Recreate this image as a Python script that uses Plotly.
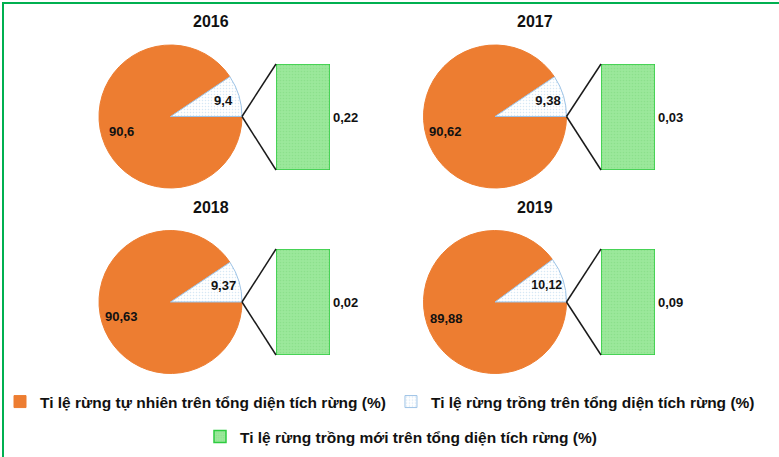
import math
import plotly.graph_objects as go

# Dữ liệu (%)
years = ["2016", "2017", "2018", "2019"]
natural = [90.6, 90.62, 90.63, 89.88]
planted = [9.4, 9.38, 9.37, 10.12]
new_planted = [0.22, 0.03, 0.02, 0.09]

labels = [
    "Ti lệ rừng tự nhiên trên tổng diện tích rừng (%)",
    "Ti lệ rừng trồng trên tổng diện tích rừng (%)",
]
bar_label = "Ti lệ rừng trồng mới trên tổng diện tích rừng (%)"

W, H = 779, 457
ORANGE = "#ED7D31"
PALE = "#F1F7FC"
BLUE_LINE = "#9DC3E6"
GREEN = "#9BE89B"
GREEN_LINE = "#2ECC40"
FONT = "Liberation Sans"

# bố cục (pixel): tâm bánh, bán kính, khung cột
pie_cx = [170.5, 495, 170.5, 495]
pie_cy = [116.5, 116.5, 302, 302]
pie_r = 71.5
bar_x = [(276, 330), (601, 655), (276, 330), (601, 655)]
bar_y = [(64, 170), (64, 170), (249, 355), (249, 355)]


def fx(px):
    return px / W


def fy(py):
    return 1 - py / H


def num(v):
    return str(v).replace(".", ",")


fig = go.Figure()

shapes = []
annotations = []

for i, yr in enumerate(years):
    cx, cy = pie_cx[i], pie_cy[i]
    total = natural[i] + planted[i]
    fig.add_trace(go.Pie(
        labels=labels,
        values=[natural[i], planted[i]],
        text=[num(natural[i]), num(planted[i])],
        textinfo="text",
        textposition=["none", "inside"],
        insidetextorientation="horizontal",
        textfont=dict(family=FONT, size=13, color="#111111", weight="bold"),
        sort=False,
        direction="counterclockwise",
        rotation=90,
        marker=dict(
            colors=[ORANGE, PALE],
            line=dict(color=[ORANGE, BLUE_LINE], width=1),
            pattern=dict(shape=["", "."], fgcolor="#D6E8F5", size=3, solidity=0.2),
        ),
        domain=dict(x=[fx(cx - pie_r), fx(cx + pie_r)],
                    y=[fy(cy + pie_r), fy(cy - pie_r)]),
        showlegend=(i == 0),
        legend="legend",
        hoverinfo="skip",
    ))

    # nhãn phần rừng tự nhiên: giữa cung, ~0.72 bán kính
    mid = math.radians(180 + 180 * planted[i] / total)
    annotations.append(dict(
        xref="paper", yref="paper",
        x=fx(cx + 0.72 * pie_r * math.cos(mid)),
        y=fy(cy - 0.72 * pie_r * math.sin(mid)),
        text=num(natural[i]), showarrow=False, xanchor="center", yanchor="middle",
        font=dict(family=FONT, size=13, color="#111111", weight="bold"),
    ))

    ax = "" if i == 0 else str(i + 1)
    fig.add_trace(go.Bar(
        x=[0],
        y=[new_planted[i]],
        width=[1],
        name=bar_label,
        marker=dict(
            color=GREEN,
            line=dict(color=GREEN_LINE, width=1.5),
            pattern=dict(shape=".", fgcolor="#7ED87E", bgcolor=GREEN, size=3, solidity=0.25),
        ),
        xaxis="x" + ax,
        yaxis="y" + ax,
        showlegend=(i == 0),
        legend="legend2",
        hoverinfo="skip",
    ))
    fig.update_layout({
        "xaxis" + ax: dict(domain=[fx(bar_x[i][0]), fx(bar_x[i][1])], range=[-0.5, 0.5],
                           visible=False, fixedrange=True),
        "yaxis" + ax: dict(domain=[fy(bar_y[i][1]), fy(bar_y[i][0])],
                           range=[0, new_planted[i]], visible=False, fixedrange=True),
    })

    # nhãn cột
    annotations.append(dict(
        xref="x" + ax + " domain", x=1, yref="y" + ax, y=new_planted[i] / 2,
        text=num(new_planted[i]), showarrow=False, xanchor="left", yanchor="middle",
        xshift=1,
        font=dict(family=FONT, size=13, color="#111111", weight="bold"),
    ))
    # tiêu đề năm
    annotations.append(dict(
        xref="paper", yref="paper", x=fx(cx + 40), y=fy(cy - 95),
        text=yr, showarrow=False, xanchor="center", yanchor="middle",
        font=dict(family=FONT, size=16, color="#111111", weight="bold"),
    ))
    # đường nối
    for by in bar_y[i]:
        shapes.append(dict(
            type="line", xref="paper", yref="paper",
            x0=fx(cx + pie_r), y0=fy(cy), x1=fx(bar_x[i][0]), y1=fy(by),
            line=dict(color="#1a1a1a", width=1.5),
        ))

# khung viền xanh
shapes.append(dict(type="rect", xref="paper", yref="paper",
                   x0=fx(3), y0=-0.2, x1=1.2, y1=fy(3),
                   line=dict(color="#00B050", width=2)))

fig.update_layout(
    width=W,
    height=H,
    margin=dict(l=0, r=0, t=0, b=0),
    paper_bgcolor="white",
    plot_bgcolor="white",
    shapes=shapes,
    annotations=annotations,
    legend=dict(
        orientation="h", x=0, xanchor="left", y=fy(402), yanchor="middle",
        font=dict(family=FONT, size=15.5, color="#111111", weight="bold"),
        itemwidth=30, bgcolor="rgba(0,0,0,0)",
    ),
    legend2=dict(
        orientation="h", x=fx(200), xanchor="left", y=fy(437), yanchor="middle",
        font=dict(family=FONT, size=15.5, color="#111111", weight="bold"),
        itemwidth=30, bgcolor="rgba(0,0,0,0)",
    ),
)

fig.write_html(
    "out.html",
    config={"displayModeBar": False},
    post_script="document.body.style.margin = '0';",
)
